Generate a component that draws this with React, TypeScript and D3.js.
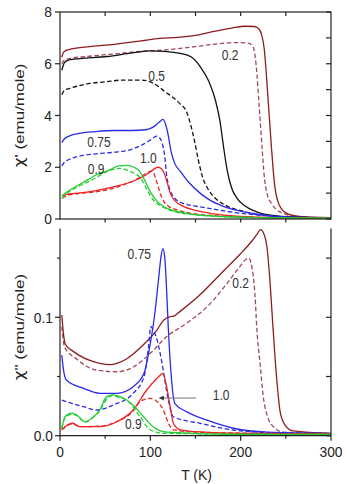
import React from "react";
import * as d3 from "d3";

type P = [number, number];

// ---- top panel: chi' (emu/mole) vs T (K)
const top02s: P[] = [[2,6.25],[4,6.45],[10,6.55],[30,6.65],[60,6.75],[90,6.88],[110,6.98],[130,7.02],[150,7.1],[170,7.25],[190,7.38],[205,7.45],[215,7.44],[220,7.35],[223,7.15],[226,6.6],[228,5.8],[230,4.8],[232,3.8],[234,2.8],[236,1.9],[238,1.2],[241,0.7],[245,0.4],[252,0.2],[265,0.1],[300,0.05]];
const top02d: P[] = [[2,6.0],[5,6.15],[10,6.2],[30,6.28],[60,6.38],[90,6.48],[110,6.52],[140,6.62],[170,6.75],[195,6.82],[208,6.8],[213,6.7],[216,6.3],[218,5.6],[220,4.6],[222,3.6],[224,2.6],[226,1.7],[229,1.0],[234,0.6],[240,0.35],[250,0.18],[265,0.08],[300,0.04]];
const top05s: P[] = [[2,5.75],[5,6.05],[10,6.15],[22,6.2],[52,6.28],[80,6.42],[100,6.5],[115,6.48],[133,6.4],[145,6.27],[155,5.9],[165,5.3],[172,4.6],[177,3.8],[181,2.8],[185,1.9],[190,1.2],[196,0.8],[205,0.5],[220,0.25],[240,0.12],[270,0.06],[300,0.04]];
const top05d: P[] = [[2,4.8],[5,4.98],[11,5.05],[33,5.24],[50,5.3],[70,5.37],[90,5.37],[100,5.3],[107,5.17],[115,4.95],[125,4.7],[133,4.45],[140,4.15],[145,3.6],[149,3.0],[153,2.3],[158,1.6],[164,1.15],[172,0.8],[185,0.5],[200,0.32],[220,0.17],[250,0.08],[300,0.04]];
const top075s: P[] = [[2,2.95],[5,3.1],[10,3.2],[20,3.3],[40,3.38],[60,3.42],[80,3.42],[95,3.45],[103,3.55],[110,3.75],[114,3.85],[117,3.65],[120,3.2],[123,2.6],[127,2.15],[133,1.85],[143,1.4],[155,1.0],[165,0.75],[180,0.5],[200,0.3],[220,0.18],[250,0.08],[300,0.04]];
const top075d: P[] = [[2,2.05],[5,2.2],[10,2.3],[20,2.42],[40,2.52],[60,2.58],[75,2.65],[90,2.85],[100,3.05],[107,3.2],[110,3.15],[113,2.95],[116,2.4],[118,1.7],[121,1.2],[126,0.85],[135,0.62],[150,0.5],[170,0.38],[200,0.22],[230,0.12],[260,0.06],[300,0.03]];
const top09s: P[] = [[2,0.9],[10,1.1],[25,1.4],[40,1.7],[55,1.9],[65,2.05],[75,2.07],[82,2.0],[88,1.85],[93,1.55],[100,1.05],[107,0.7],[115,0.47],[125,0.33],[140,0.22],[160,0.14],[200,0.07],[250,0.04],[300,0.03]];
const top09d: P[] = [[2,0.8],[10,1.05],[20,1.25],[35,1.5],[50,1.8],[60,1.93],[67,1.96],[75,1.88],[83,1.75],[89,1.6],[96,1.15],[103,0.75],[112,0.5],[125,0.3],[145,0.18],[170,0.11],[220,0.05],[300,0.03]];
const top10s: P[] = [[2,0.9],[10,0.97],[20,1.0],[40,1.1],[60,1.25],[80,1.45],[95,1.7],[103,1.9],[108,2.0],[112,1.95],[115,1.8],[118,1.5],[122,1.0],[128,0.68],[137,0.48],[150,0.33],[170,0.2],[200,0.1],[250,0.05],[300,0.03]];
const top10d: P[] = [[2,0.8],[10,0.93],[20,0.98],[40,1.05],[60,1.2],[75,1.38],[88,1.6],[96,1.78],[101,1.85],[104,1.75],[107,1.45],[110,1.1],[113,0.8],[118,0.55],[128,0.37],[145,0.22],[170,0.13],[220,0.06],[300,0.03]];

// ---- bottom panel: chi'' (emu/mole) vs T (K)
const bot02s: P[] = [[2,0.102],[4,0.085],[6,0.077],[15,0.071],[37,0.0625],[55,0.060],[74,0.065],[92,0.0766],[107,0.089],[115,0.0977],[122,0.1005],[126,0.101],[133,0.105],[155,0.119],[177,0.136],[199,0.153],[212,0.164],[218,0.170],[222,0.174],[226,0.170],[229,0.160],[232,0.135],[236,0.089],[240,0.047],[244,0.019],[250,0.008],[258,0.004],[300,0.002]];
const bot02d: P[] = [[2,0.092],[5,0.075],[18,0.065],[40,0.0555],[63,0.054],[81,0.058],[100,0.0696],[118,0.0836],[140,0.095],[163,0.109],[185,0.1287],[199,0.1427],[206,0.149],[209,0.150],[212,0.144],[216,0.117],[218,0.089],[221.5,0.061],[225,0.033],[229,0.018],[233,0.0105],[247,0.003],[300,0.002]];
const bot075s: P[] = [[2,0.068],[4,0.055],[7,0.047],[26,0.040],[44,0.0358],[63,0.0358],[81,0.0414],[93,0.0527],[100,0.078],[105,0.1034],[109,0.1315],[112,0.152],[114,0.158],[116,0.150],[117.5,0.1315],[120,0.089],[123.5,0.047],[127,0.0274],[140,0.0203],[162,0.0133],[192,0.0063],[230,0.003],[300,0.002]];
const bot075d: P[] = [[2,0.030],[26,0.0245],[41,0.0217],[59,0.026],[81,0.0358],[93,0.0498],[98,0.075],[100.5,0.092],[104,0.088],[107.5,0.0808],[113,0.061],[118.5,0.0358],[125.5,0.016],[155,0.0105],[192,0.0048],[250,0.002],[300,0.0015]];
const bot10s: P[] = [[2,0.005],[8,0.009],[14,0.0105],[22,0.0076],[44,0.0076],[63,0.0118],[81,0.0217],[96,0.0386],[107.5,0.0485],[114,0.0527],[118,0.0414],[122,0.0245],[125.5,0.0105],[133,0.005],[160,0.003],[200,0.002],[300,0.0015]];
const bot10d: P[] = [[2,0.005],[14,0.010],[22,0.0076],[44,0.008],[63,0.012],[80,0.02],[88.6,0.0287],[95,0.031],[100,0.0316],[107.5,0.0287],[114.4,0.0217],[120,0.0105],[125.5,0.005],[150,0.003],[300,0.0015]];
const bot09s: P[] = [[2,0.006],[5.5,0.016],[13,0.019],[18.5,0.0175],[27.7,0.0118],[37,0.016],[44,0.0217],[51.7,0.033],[59,0.0344],[66.4,0.033],[81,0.026],[92.6,0.016],[103,0.0076],[118.5,0.003],[200,0.001],[300,0.001]];
const bot09d: P[] = [[2,0.006],[5.5,0.015],[13,0.018],[18.5,0.017],[27.7,0.0115],[37,0.0155],[44,0.021],[51.7,0.031],[59,0.034],[66.4,0.032],[74,0.030],[88.6,0.016],[99.7,0.005],[115,0.002],[300,0.001]];

const xTicks = [0, 100, 200, 300];
const xMinor = [50, 150, 250];
const topYTicks = [0, 2, 4, 6, 8];
const topYMinor = [1, 3, 5, 7];
const botYTicks = [0, 0.1];
const botYMinor = [0.05, 0.15];

const topLabels = [
  { text: "0.2", T: 188.3, v: 6.33 },
  { text: "0.5", T: 107, v: 5.52 },
  { text: "0.75", T: 43.2, v: 2.98 },
  { text: "1.0", T: 97.8, v: 2.34 },
  { text: "0.9", T: 39.9, v: 1.92 },
];
const botLabels = [
  { text: "0.75", T: 87.8, v: 0.1535 },
  { text: "0.2", T: 200, v: 0.1287 },
  { text: "1.0", T: 178.3, v: 0.0344 },
  { text: "0.9", T: 81.2, v: 0.0099 },
];
const arrowFrom: P = [150.6, 0.0318];
const arrowTo: P = [110, 0.0318];

const C = {
  c02s: "#8e1c1c",
  c02d: "#a04a55",
  c05: "#111111",
  c075: "#2a2ae8",
  c09: "#22cc33",
  c10: "#ee2222",
};

const FONT = "'Liberation Sans', Arial, sans-serif";

export default function App() {
  const x = d3.scaleLinear().domain([0, 300]).range([60, 331]);
  const yT = d3.scaleLinear().domain([0, 8]).range([219, 12]);
  const yB = d3.scaleLinear().domain([0, 0.175]).range([435.7, 435.7 - 0.175 * 1184]);

  const lineT = d3.line<P>().x((d) => x(d[0])).y((d) => yT(d[1])).curve(d3.curveMonotoneX);
  const lineB = d3.line<P>().x((d) => x(d[0])).y((d) => yB(d[1])).curve(d3.curveMonotoneX);

  const dash = "4.5,2.5";
  const topSeries = [
    { d: top02d, c: C.c02d, dash },
    { d: top02s, c: C.c02s },
    { d: top05d, c: C.c05, dash },
    { d: top05s, c: C.c05 },
    { d: top075d, c: C.c075, dash },
    { d: top075s, c: C.c075 },
    { d: top10d, c: C.c10, dash },
    { d: top10s, c: C.c10 },
    { d: top09d, c: C.c09, dash },
    { d: top09s, c: C.c09 },
  ];
  const botSeries = [
    { d: bot02d, c: C.c02d, dash },
    { d: bot02s, c: C.c02s },
    { d: bot075d, c: C.c075, dash },
    { d: bot075s, c: C.c075 },
    { d: bot10d, c: C.c10, dash },
    { d: bot10s, c: C.c10 },
    { d: bot09d, c: C.c09, dash },
    { d: bot09s, c: C.c09 },
  ];

  const ax = "#222";
  const x0 = x(0), x1 = x(300);
  const tT = yT(8), bT = yT(0);
  const tB = yB(0.175), bB = yB(0);

  const tickLabel = (tx: number, ty: number, text: string, anchor: string) => (
    <text
      key={text + tx + ty}
      transform={`translate(${tx},${ty}) scale(0.95,1)`}
      textAnchor={anchor}
      fontSize={14.5}
      fontFamily={FONT}
      fill="#222"
    >
      {text}
    </text>
  );

  return (
    <svg
      width={347}
      height={484}
      style={{ position: "fixed", left: 0, top: 0, background: "#fff" }}
    >
      <defs>
        <clipPath id="clipTop">
          <rect x={x0} y={tT} width={x1 - x0} height={bT - tT} />
        </clipPath>
        <clipPath id="clipBot">
          <rect x={x0} y={tB - 2} width={x1 - x0} height={bB - tB + 2} />
        </clipPath>
        <marker id="arr" viewBox="0 0 10 10" refX="9" refY="5" markerWidth="5" markerHeight="5" orient="auto-start-reverse">
          <path d="M0,0 L10,5 L0,10 z" fill="#333" />
        </marker>
      </defs>
      <rect width={347} height={484} fill="#fff" />

      {/* curves */}
      <g clipPath="url(#clipTop)" fill="none">
        {topSeries.map((s, i) => (
          <path key={i} d={lineT(s.d) || ""} stroke={s.c} strokeWidth={1.3} strokeDasharray={s.dash} />
        ))}
      </g>
      <g clipPath="url(#clipBot)" fill="none">
        {botSeries.map((s, i) => (
          <path key={i} d={lineB(s.d) || ""} stroke={s.c} strokeWidth={1.3} strokeDasharray={s.dash} />
        ))}
      </g>

      {/* top panel frame */}
      <g stroke={ax} strokeWidth={1.2} fill="none">
        <rect x={x0} y={tT} width={x1 - x0} height={bT - tT} />
        {topYTicks.map((v) => (
          <line key={"tl" + v} x1={x0 - 5} x2={x0} y1={yT(v)} y2={yT(v)} />
        ))}
        {[...topYTicks, ...topYMinor].map((v) => (
          <line key={"tr" + v} x1={x1 - 5} x2={x1} y1={yT(v)} y2={yT(v)} />
        ))}
        {[...xMinor, 100, 200].map((t) => (
          <line key={"tt" + t} x1={x(t)} x2={x(t)} y1={tT} y2={tT + 4} />
        ))}
        {[...xMinor, 100, 200].map((t) => (
          <line key={"tb" + t} x1={x(t)} x2={x(t)} y1={bT} y2={bT + 3.5} />
        ))}
      </g>
      {topYTicks.map((v) => tickLabel(x0 - 8, yT(v) + 5.2, String(v), "end"))}

      {/* bottom panel frame */}
      <g stroke={ax} strokeWidth={1.2} fill="none">
        <line x1={x0} x2={x0} y1={tB} y2={bB} />
        <line x1={x1} x2={x1} y1={tB} y2={bB} />
        <line x1={x0} x2={x1} y1={bB} y2={bB} />
        {botYTicks.map((v) => (
          <line key={"bl" + v} x1={x0 - 5} x2={x0} y1={yB(v)} y2={yB(v)} />
        ))}
        {botYMinor.map((v) => (
          <line key={"blm" + v} x1={x0 - 3} x2={x0} y1={yB(v)} y2={yB(v)} />
        ))}
        {[...botYTicks, ...botYMinor].map((v) => (
          <line key={"br" + v} x1={x1 - 5} x2={x1} y1={yB(v)} y2={yB(v)} />
        ))}
        {xTicks.map((t) => (
          <line key={"bx" + t} x1={x(t)} x2={x(t)} y1={bB} y2={bB + 5} />
        ))}
        {xMinor.map((t) => (
          <line key={"bxm" + t} x1={x(t)} x2={x(t)} y1={bB} y2={bB + 3} />
        ))}
      </g>
      {botYTicks.map((v) => tickLabel(x0 - 7, yB(v) + 5.2, v.toFixed(1), "end"))}
      {xTicks.map((t) => tickLabel(x(t), bB + 21, String(t), "middle"))}

      {/* axis titles */}
      <text
        transform={`translate(${x(150) + 1},480) scale(0.9,1)`}
        textAnchor="middle"
        fontSize={15.5}
        fontFamily={FONT}
        fill="#222"
      >
        T (K)
      </text>
      <text
        transform={`translate(24,${(tT + bT) / 2 + 0}) rotate(-90) scale(1,0.8)`}
        textAnchor="middle"
        fontSize={17}
        fontFamily={FONT}
        fill="#222"
      >
        <tspan fontFamily="'DejaVu Sans', sans-serif">χ</tspan>' (emu/mole)
      </text>
      <text
        transform={`translate(24,${(tB + bB) / 2 - 5}) rotate(-90) scale(1,0.8)`}
        textAnchor="middle"
        fontSize={17}
        fontFamily={FONT}
        fill="#222"
      >
        <tspan fontFamily="'DejaVu Sans', sans-serif">χ</tspan>" (emu/mole)
      </text>

      {/* curve labels */}
      {topLabels.map((l) => (
        <text
          key={"ltop" + l.text}
          transform={`translate(${x(l.T)},${yT(l.v) + 4.8}) scale(0.86,1)`}
          textAnchor="middle"
          fontSize={14}
          fontFamily={FONT}
          fill="#333"
        >
          {l.text}
        </text>
      ))}
      {botLabels.map((l) => (
        <text
          key={"lbot" + l.text}
          transform={`translate(${x(l.T)},${yB(l.v) + 4.8}) scale(0.86,1)`}
          textAnchor="middle"
          fontSize={14}
          fontFamily={FONT}
          fill="#333"
        >
          {l.text}
        </text>
      ))}
      <line
        x1={x(arrowFrom[0])}
        y1={yB(arrowFrom[1])}
        x2={x(arrowTo[0])}
        y2={yB(arrowTo[1])}
        stroke="#777"
        strokeWidth={1}
        markerEnd="url(#arr)"
      />
    </svg>
  );
}
